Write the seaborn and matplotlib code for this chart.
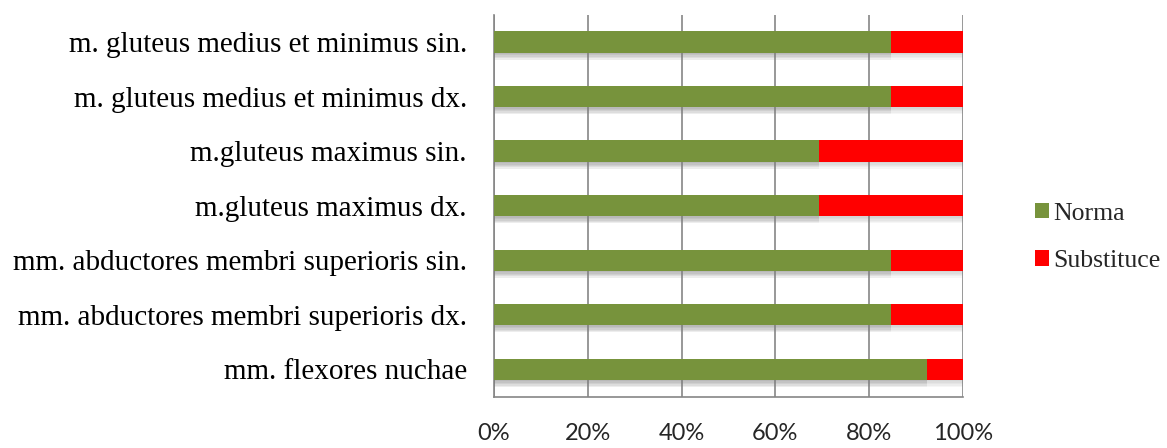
import matplotlib
matplotlib.use("Agg")
import matplotlib.pyplot as plt
import matplotlib.patheffects as pe
from matplotlib.patches import Patch
import numpy as np
import pandas as pd
import seaborn as sns

categories = [
    "m. gluteus medius et minimus sin.",
    "m. gluteus medius et minimus dx.",
    "m.gluteus maximus sin.",
    "m.gluteus maximus dx.",
    "mm. abductores membri superioris sin.",
    "mm. abductores membri superioris dx.",
    "mm. flexores nuchae",
]
norma = [84.6, 84.6, 69.2, 69.2, 84.6, 84.6, 92.3]
substituce = [15.4, 15.4, 30.8, 30.8, 15.4, 15.4, 7.7]
x_ticks = [0, 20, 40, 60, 80, 100]
x_tick_labels = ["0%", "20%", "40%", "60%", "80%", "100%"]

green = "#77933C"
red = "#FF0000"
grid_col = "#868686"

df = pd.DataFrame({"cat": categories, "Norma": norma, "Substituce": substituce})
df["total"] = df["Norma"] + df["Substituce"]

sns.set_theme(style="white")
plt.rcParams["font.family"] = ["Liberation Serif", "DejaVu Serif"]

fig = plt.figure(figsize=(11.67, 4.48), dpi=100)
ax = fig.add_axes([0.4233, 0.1145, 0.4019, 0.8527])

# soft drop shadow under each bar
shadow = [pe.SimplePatchShadow(offset=(0, -k), shadow_rgbFace="#808080", alpha=0.07)
          for k in (1, 2, 3, 4, 5)] + [pe.Normal()]

sns.barplot(data=df, x="total", y="cat", color=red, orient="h", width=0.39,
            saturation=1, ax=ax, zorder=3)
sns.barplot(data=df, x="Norma", y="cat", color=green, orient="h", width=0.39,
            saturation=1, ax=ax, zorder=4)
for p in ax.patches:
    p.set_linewidth(0)
    p.set_path_effects(shadow)

ax.set_xlim(0, 100)
ax.set_ylim(len(categories) - 0.5, -0.5)
ax.set_xlabel("")
ax.set_ylabel("")

ax.set_xticks(x_ticks)
ax.set_xticklabels(x_tick_labels, fontfamily="Lato", fontsize=17)
ax.xaxis.grid(True, color=grid_col, linewidth=1.2, zorder=0)
ax.set_axisbelow(True)

ax.set_yticks(np.arange(len(categories)))
ax.set_yticklabels(categories, fontsize=21)
ax.set_yticks(np.arange(-0.5, len(categories), 1), minor=True)
ax.tick_params(axis="y", which="major", length=0, pad=19.5)
ax.tick_params(axis="y", which="minor", length=5, width=1.2, color=grid_col, direction="out")
ax.tick_params(axis="x", length=5, width=1.2, color=grid_col, direction="out", pad=14)
for lbl in ax.get_yticklabels():
    lbl.set_color("black")

for s in ["top", "right"]:
    ax.spines[s].set_visible(False)
for s in ["left", "bottom"]:
    ax.spines[s].set_color(grid_col)
    ax.spines[s].set_linewidth(1.2)

handles = [Patch(facecolor=green, edgecolor="none"), Patch(facecolor=red, edgecolor="none")]
fig.legend(handles, ["Norma", "Substituce"],
           loc="center left", bbox_to_anchor=(0.867, 0.47), frameon=False,
           fontsize=18.5, handlelength=0.55, handleheight=0.55, handletextpad=0.18,
           labelspacing=1.0)

fig.savefig("out.png", dpi=100)
